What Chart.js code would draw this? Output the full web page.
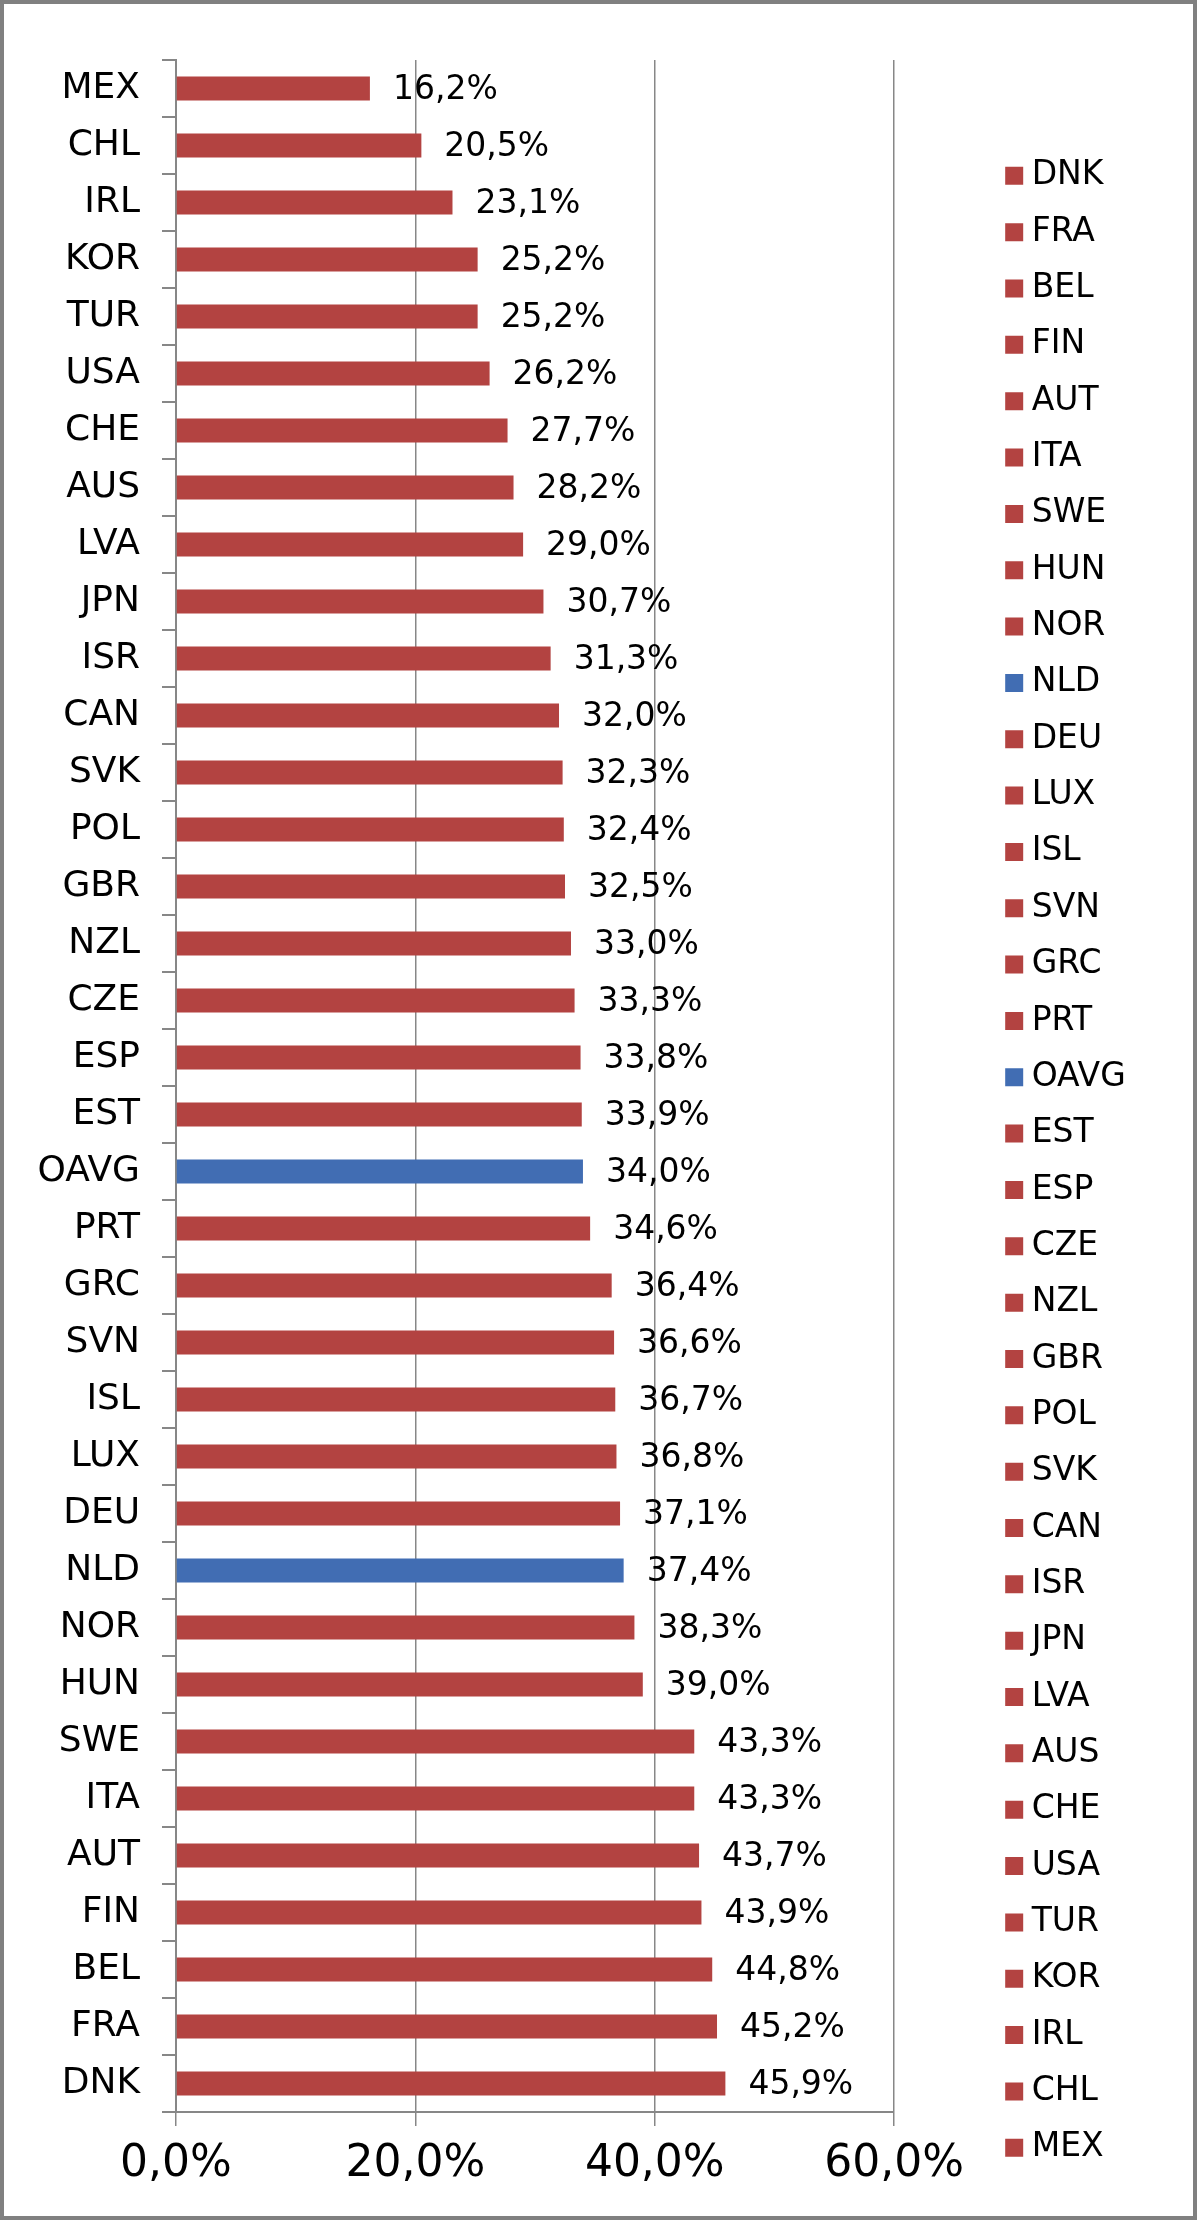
<!DOCTYPE html>
<html>
<head>
<meta charset="utf-8">
<script src="https://cdn.jsdelivr.net/npm/chart.js@4/dist/chart.umd.min.js"></script>
<style>
  html, body { margin: 0; padding: 0; background: #ffffff; }
  #frame { position: absolute; left: 0; top: 0; width: 1197px; height: 2220px; box-sizing: border-box; border: 4px solid #808080; background: #ffffff; }
  canvas { display: block; }
</style>
</head>
<body>
<div id="frame"><canvas id="c" width="1189" height="2212"></canvas></div>
<script>
// ---- data (first category is drawn at the bottom, as in the original) ----
const categories = ['DNK','FRA','BEL','FIN','AUT','ITA','SWE','HUN','NOR','NLD','DEU','LUX','ISL','SVN','GRC','PRT','OAVG','EST','ESP','CZE','NZL','GBR','POL','SVK','CAN','ISR','JPN','LVA','AUS','CHE','USA','TUR','KOR','IRL','CHL','MEX'];
const values = [45.9,45.2,44.8,43.9,43.7,43.3,43.3,39.0,38.3,37.4,37.1,36.8,36.7,36.6,36.4,34.6,34.0,33.9,33.8,33.3,33.0,32.5,32.4,32.3,32.0,31.3,30.7,29.0,28.2,27.7,26.2,25.2,25.2,23.1,20.5,16.2];
const highlighted = ['NLD','OAVG'];
const xTickLabels = ['0,0%','20,0%','40,0%','60,0%'];

const RED = '#B34341';
const BLUE = '#416DB3';
const GRID = '#878787';
const FONT = '"DejaVu Sans", Verdana, sans-serif';
const colorFor = c => highlighted.includes(c) ? BLUE : RED;
const fmt = v => v.toFixed(1).replace('.', ',') + '%';

const valueLabels = {
  id: 'valueLabels',
  afterDatasetsDraw(chart) {
    const ctx = chart.ctx;
    const meta = chart.getDatasetMeta(0);
    ctx.save();
    ctx.font = '33px ' + FONT;
    ctx.fillStyle = '#000000';
    ctx.textAlign = 'left';
    ctx.textBaseline = 'middle';
    meta.data.forEach((bar, i) => {
      ctx.fillText(fmt(values[i]), bar.x + 23, bar.y + 2);
    });
    ctx.restore();
  }
};

new Chart(document.getElementById('c'), {
  type: 'bar',
  data: {
    labels: categories,
    datasets: [{
      data: values,
      backgroundColor: categories.map(colorFor),
      borderWidth: 0,
      categoryPercentage: 1,
      barPercentage: 0.421
    }]
  },
  options: {
    indexAxis: 'y',
    responsive: false,
    animation: false,
    devicePixelRatio: 1,
    layout: { padding: { top: 56, left: 0, bottom: 0, right: 57.3 } },
    plugins: {
      tooltip: { enabled: false },
      legend: {
        position: 'right',
        align: 'start',
        title: { display: true, text: '', color: 'rgba(0,0,0,0)', font: { size: 10, lineHeight: 1 }, padding: { top: 0, bottom: 66 } },
        labels: {
          usePointStyle: true,
          boxWidth: 2,
          boxHeight: 18,
          padding: 23.34,
          color: '#000000',
          font: { family: FONT, size: 33 },
          generateLabels: () => categories.map((c, i) => ({
            text: c,
            fillStyle: colorFor(c),
            strokeStyle: colorFor(c),
            lineWidth: 0,
            pointStyle: 'rect',
            rotation: 0,
            hidden: false,
            index: i,
            datasetIndex: 0,
            fontColor: '#000000'
          }))
        }
      }
    },
    scales: {
      x: {
        type: 'linear',
        min: 0,
        max: 60,
        afterFit: s => { s.height = 104; },
        afterBuildTicks: s => { s.ticks = [0, 20, 40, 60].map(v => ({ value: v })); },
        ticks: {
          autoSkip: false,
          maxRotation: 0,
          padding: 12,
          color: '#000000',
          font: { family: FONT, size: 44 },
          callback: (v, i) => xTickLabels[i]
        },
        grid: { color: GRID, lineWidth: 1.5, drawTicks: true, tickLength: 14 },
        border: { display: true, color: GRID, width: 2 }
      },
      y: {
        type: 'category',
        reverse: true,
        afterFit: s => { s.width = 172; },
        ticks: {
          autoSkip: false,
          padding: 22,
          color: '#000000',
          font: { family: FONT, size: 36 }
        },
        grid: { display: true, drawOnChartArea: false, drawTicks: true, tickLength: 14, offset: true, color: GRID, lineWidth: 2 },
        border: { display: true, color: GRID, width: 2 }
      },
      ySpacer: {
        type: 'linear',
        axis: 'y',
        position: 'right',
        display: true,
        afterFit: s => { s.width = 95.7; },
        ticks: { display: false },
        grid: { display: false },
        border: { display: false }
      }
    }
  },
  plugins: [valueLabels]
});
</script>
</body>
</html>
